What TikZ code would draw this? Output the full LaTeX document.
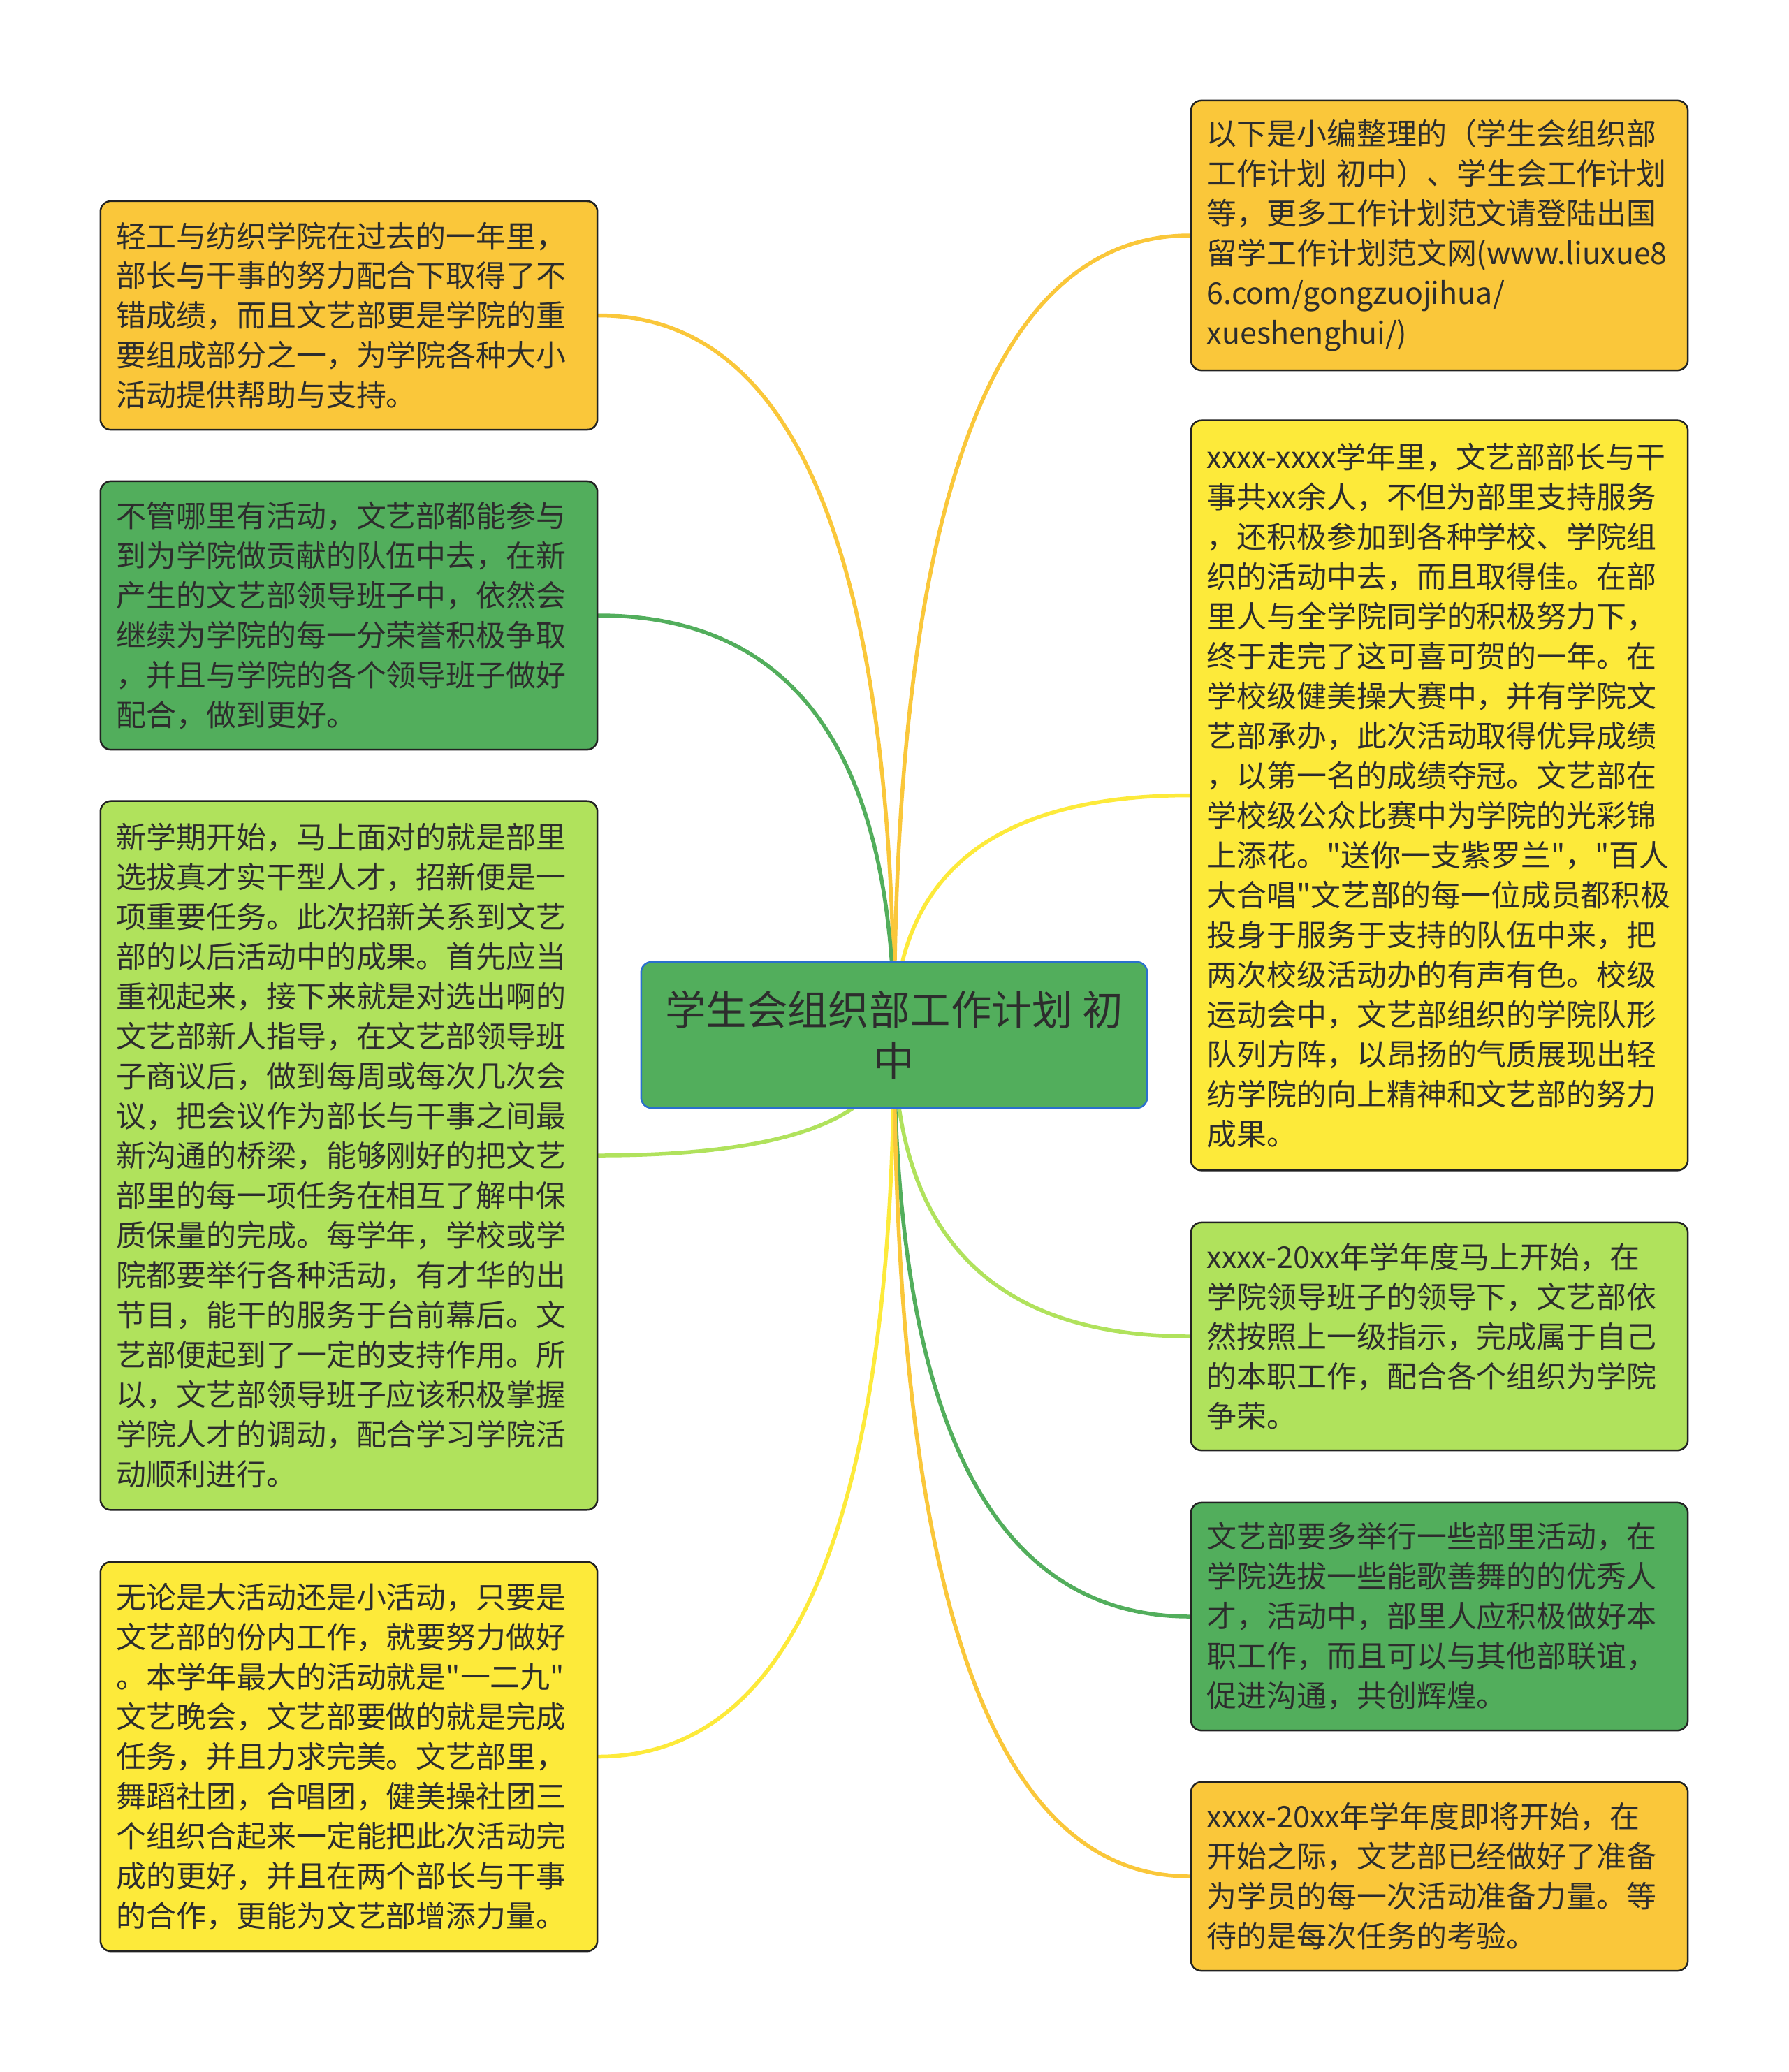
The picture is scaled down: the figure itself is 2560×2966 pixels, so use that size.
\documentclass[tikz,border=0pt]{standalone}
\usepackage{fontspec}
\setmainfont{Noto Sans CJK SC}[Ligatures=TeXOff]
\usetikzlibrary{backgrounds,calc}
\exhyphenpenalty=10000
\hyphenpenalty=10000
\definecolor{cOrange}{RGB}{250,199,58}
\definecolor{cYellow}{RGB}{253,234,58}
\definecolor{cLight}{RGB}{176,226,92}
\definecolor{cGreen}{RGB}{82,174,92}
\definecolor{cBorder}{RGB}{34,34,34}
\definecolor{cBlue}{RGB}{42,112,205}
\definecolor{cText}{RGB}{45,45,45}
\tikzset{
  leafbox/.style={draw=cBorder, line width=0.025cm, rounded corners=0.15cm,
    minimum width=7.11cm, text width=6.65cm, inner xsep=0.23cm, inner ysep=0cm,
    align=left, text=cText, font=\fontsize{12.2pt}{16.2pt}\selectfont},
  rootbox/.style={draw=cBlue, fill=cGreen, line width=0.025cm, rounded corners=0.15cm,
    minimum width=7.24cm, minimum height=2.09cm, align=center, text=cText,
    font=\fontsize{16.6pt}{20.5pt}\selectfont},
  conn/.style={line width=0.055cm, line cap=round}
}
\newcommand{\mmlink}[2]{\draw[conn,#1] (C.center) .. controls ($(C.center)!0.6667!(C.center |- #2)$) and ($(#2)!0.6667!(C.center |- #2)$) .. (#2);}
\begin{document}
\begin{tikzpicture}[x=0.01cm, y=-0.01cm]
\useasboundingbox (0,0) rectangle (2560,2966);

\node[rootbox] (C) at (1280,1481.5) {学生会组织部工作计划~初\\中};

\node[leafbox, fill=cOrange, minimum height=3.27cm] (L1) at (499.5,451.5) {轻工与纺织学院在过去的一年里，\\部长与干事的努力配合下取得了不\\错成绩，而且文艺部更是学院的重\\要组成部分之一，为学院各种大小\\活动提供帮助与支持。};

\node[leafbox, fill=cGreen, minimum height=3.84cm] (L2) at (499.5,881) {不管哪里有活动，文艺部都能参与\\到为学院做贡献的队伍中去，在新\\产生的文艺部领导班子中，依然会\\继续为学院的每一分荣誉积极争取\\，并且与学院的各个领导班子做好\\配合，做到更好。};

\node[leafbox, fill=cLight, minimum height=10.14cm] (L3) at (499.5,1654) {新学期开始，马上面对的就是部里\\选拔真才实干型人才，招新便是一\\项重要任务。此次招新关系到文艺\\部的以后活动中的成果。首先应当\\重视起来，接下来就是对选出啊的\\文艺部新人指导，在文艺部领导班\\子商议后，做到每周或每次几次会\\议，把会议作为部长与干事之间最\\新沟通的桥梁，能够刚好的把文艺\\部里的每一项任务在相互了解中保\\质保量的完成。每学年，学校或学\\院都要举行各种活动，有才华的出\\节目，能干的服务于台前幕后。文\\艺部便起到了一定的支持作用。所\\以，文艺部领导班子应该积极掌握\\学院人才的调动，配合学习学院活\\动顺利进行。};

\node[leafbox, fill=cYellow, minimum height=5.57cm] (L4) at (499.5,2514.5) {无论是大活动还是小活动，只要是\\文艺部的份内工作，就要努力做好\\。本学年最大的活动就是"一二九"\\文艺晚会，文艺部要做的就是完成\\任务，并且力求完美。文艺部里，\\舞蹈社团，合唱团，健美操社团三\\个组织合起来一定能把此次活动完\\成的更好，并且在两个部长与干事\\的合作，更能为文艺部增添力量。};

\node[leafbox, fill=cOrange, minimum height=3.86cm] (R1) at (2060.5,337) {以下是小编整理的（学生会组织部\\工作计划~初中）、学生会工作计划\\等，更多工作计划范文请登陆出国\\留学工作计划范文网(www.liuxue8\\6.com/gongzuojihua/\\xueshenghui/)};

\node[leafbox, fill=cYellow, minimum height=10.73cm] (R2) at (2060.5,1138.5) {xxxx-xxxx学年里，文艺部部长与干\\事共xx余人，不但为部里支持服务\\，还积极参加到各种学校、学院组\\织的活动中去，而且取得佳。在部\\里人与全学院同学的积极努力下，\\终于走完了这可喜可贺的一年。在\\学校级健美操大赛中，并有学院文\\艺部承办，此次活动取得优异成绩\\，以第一名的成绩夺冠。文艺部在\\学校级公众比赛中为学院的光彩锦\\上添花。"送你一支紫罗兰"，"百人\\大合唱"文艺部的每一位成员都积极\\投身于服务于支持的队伍中来，把\\两次校级活动办的有声有色。校级\\运动会中，文艺部组织的学院队形\\队列方阵，以昂扬的气质展现出轻\\纺学院的向上精神和文艺部的努力\\成果。};

\node[leafbox, fill=cLight, minimum height=3.26cm] (R3) at (2060.5,1913) {xxxx-20xx年学年度马上开始，在\\学院领导班子的领导下，文艺部依\\然按照上一级指示，完成属于自己\\的本职工作，配合各个组织为学院\\争荣。};

\node[leafbox, fill=cGreen, minimum height=3.26cm] (R4) at (2060.5,2314) {文艺部要多举行一些部里活动，在\\学院选拔一些能歌善舞的的优秀人\\才，活动中，部里人应积极做好本\\职工作，而且可以与其他部联谊，\\促进沟通，共创辉煌。};

\node[leafbox, fill=cOrange, minimum height=2.70cm] (R5) at (2060.5,2686) {xxxx-20xx年学年度即将开始，在\\开始之际，文艺部已经做好了准备\\为学员的每一次活动准备力量。等\\待的是每次任务的考验。};

\begin{pgfonlayer}{background}
\fill[white] (0,0) rectangle (2560,2966);
\mmlink{cOrange}{L1.east}
\mmlink{cGreen}{L2.east}
\mmlink{cLight}{L3.east}
\mmlink{cYellow}{L4.east}
\mmlink{cOrange}{R1.west}
\mmlink{cYellow}{R2.west}
\mmlink{cLight}{R3.west}
\mmlink{cGreen}{R4.west}
\mmlink{cOrange}{R5.west}
\end{pgfonlayer}
\end{tikzpicture}
\end{document}
